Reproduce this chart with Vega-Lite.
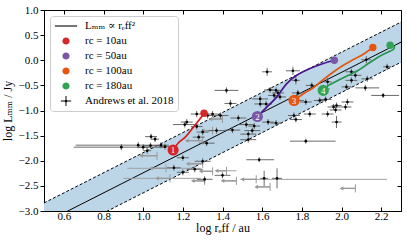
{
  "$schema": "https://vega.github.io/schema/vega-lite/v6.json",
  "width": 357,
  "height": 201,
  "autosize": {"type": "none"},
  "padding": {"left": 44, "top": 10, "right": 6, "bottom": 33},
  "config": {
    "font": "Liberation Serif, DejaVu Serif, serif",
    "view": {"stroke": "black", "strokeWidth": 1},
    "axis": {
      "grid": false,
      "labelFont": "Liberation Serif, DejaVu Serif, serif",
      "labelFontSize": 11,
      "labelColor": "black",
      "tickColor": "black",
      "domainColor": "black",
      "titleFont": "Liberation Serif, DejaVu Serif, serif",
      "titleFontSize": 12,
      "titleFontWeight": "normal",
      "titleColor": "black"
    }
  },
  "datasets": {
    "band": [
      {"x": 0.5, "lo": -3.64, "mid": -3.24, "hi": -2.84},
      {"x": 2.3, "lo": -0.04, "mid": 0.36, "hi": 0.76}
    ],
    "det": [
      {"x": 0.89, "y": -1.73, "xl": 0.65, "xr": 1.12, "yl": -1.79, "yh": -1.67},
      {"x": 0.975, "y": -1.69, "xl": 0.66, "xr": 1.05, "yl": -1.75, "yh": -1.63},
      {"x": 1.0, "y": -1.73, "xl": 0.97, "xr": 1.03, "yl": -1.79, "yh": -1.67},
      {"x": 1.04, "y": -1.52, "xl": 1.01, "xr": 1.07, "yl": -1.58, "yh": -1.46},
      {"x": 1.06, "y": -1.57, "xl": 1.04, "xr": 1.08, "yl": -1.63, "yh": -1.51},
      {"x": 1.037, "y": -1.7, "xl": 1.0, "xr": 1.08, "yl": -1.76, "yh": -1.64},
      {"x": 1.09, "y": -1.69, "xl": 1.05, "xr": 1.13, "yl": -1.75, "yh": -1.63},
      {"x": 1.11, "y": -1.72, "xl": 1.08, "xr": 1.16, "yl": -1.78, "yh": -1.66},
      {"x": 1.02, "y": -1.8, "xl": 1.0, "xr": 1.04, "yl": -1.86, "yh": -1.74},
      {"x": 1.2, "y": -1.94, "xl": 1.17, "xr": 1.23, "yl": -2.0, "yh": -1.88},
      {"x": 1.155, "y": -2.14, "xl": 1.12, "xr": 1.19, "yl": -2.2, "yh": -2.08},
      {"x": 1.2, "y": -2.23, "xl": 1.17, "xr": 1.23, "yl": -2.29, "yh": -2.17},
      {"x": 1.28, "y": -1.53, "xl": 1.25, "xr": 1.31, "yl": -1.59, "yh": -1.47},
      {"x": 1.26, "y": -2.17, "xl": 1.22, "xr": 1.3, "yl": -2.23, "yh": -2.11},
      {"x": 1.21, "y": -1.28, "xl": 1.15, "xr": 1.27, "yl": -1.34, "yh": -1.22},
      {"x": 1.975, "y": -1.23, "xl": 1.95, "xr": 2.0, "yl": -1.35, "yh": -1.11},
      {"x": 1.82, "y": -1.61, "xl": 1.74, "xr": 1.97, "yl": -1.66, "yh": -1.56},
      {"x": 1.585, "y": -1.98, "xl": 1.52, "xr": 1.66, "yl": -2.03, "yh": -1.93},
      {"x": 1.61, "y": -2.35, "xl": 1.59, "xr": 1.63, "yl": -2.5, "yh": -2.2},
      {"x": 1.675, "y": -2.35, "xl": 1.65, "xr": 1.7, "yl": -2.55, "yh": -2.15},
      {"x": 1.53, "y": -1.58, "xl": 1.49, "xr": 1.57, "yl": -1.64, "yh": -1.52},
      {"x": 1.4, "y": -2.29, "xl": 1.36, "xr": 1.44, "yl": -2.35, "yh": -2.23},
      {"x": 1.31, "y": -2.37, "xl": 1.27, "xr": 1.35, "yl": -2.43, "yh": -2.31},
      {"x": 1.3, "y": -2.01, "xl": 1.26, "xr": 1.34, "yl": -2.07, "yh": -1.95},
      {"x": 1.32, "y": -1.65, "xl": 1.28, "xr": 1.36, "yl": -1.71, "yh": -1.59},
      {"x": 1.37, "y": -1.4, "xl": 1.33, "xr": 1.41, "yl": -1.46, "yh": -1.34},
      {"x": 1.45, "y": -1.39, "xl": 1.41, "xr": 1.49, "yl": -1.45, "yh": -1.33},
      {"x": 1.52, "y": -1.28, "xl": 1.48, "xr": 1.56, "yl": -1.34, "yh": -1.22},
      {"x": 1.55, "y": -1.4, "xl": 1.51, "xr": 1.59, "yl": -1.46, "yh": -1.34},
      {"x": 1.56, "y": -1.31, "xl": 1.53, "xr": 1.59, "yl": -1.37, "yh": -1.25},
      {"x": 1.63, "y": -1.23, "xl": 1.6, "xr": 1.66, "yl": -1.29, "yh": -1.17},
      {"x": 1.67, "y": -1.25, "xl": 1.64, "xr": 1.7, "yl": -1.31, "yh": -1.19},
      {"x": 1.625, "y": -0.23, "xl": 1.6, "xr": 1.65, "yl": -0.31, "yh": -0.15},
      {"x": 1.755, "y": -0.21, "xl": 1.72, "xr": 1.79, "yl": -0.29, "yh": -0.13},
      {"x": 1.42, "y": -0.6, "xl": 1.36, "xr": 1.48, "yl": -0.66, "yh": -0.54},
      {"x": 1.44, "y": -0.86, "xl": 1.41, "xr": 1.47, "yl": -0.93, "yh": -0.79},
      {"x": 1.59, "y": -0.77, "xl": 1.55, "xr": 1.63, "yl": -0.83, "yh": -0.71},
      {"x": 1.64, "y": -0.59, "xl": 1.61, "xr": 1.67, "yl": -0.65, "yh": -0.53},
      {"x": 1.67, "y": -0.6, "xl": 1.64, "xr": 1.7, "yl": -0.66, "yh": -0.54},
      {"x": 1.68, "y": -0.65, "xl": 1.65, "xr": 1.71, "yl": -0.71, "yh": -0.59},
      {"x": 1.66, "y": -0.7, "xl": 1.63, "xr": 1.69, "yl": -0.76, "yh": -0.64},
      {"x": 1.69, "y": -0.73, "xl": 1.66, "xr": 1.72, "yl": -0.79, "yh": -0.67},
      {"x": 1.77, "y": -0.4, "xl": 1.75, "xr": 1.79, "yl": -0.48, "yh": -0.32},
      {"x": 1.78, "y": -0.65, "xl": 1.75, "xr": 1.81, "yl": -0.71, "yh": -0.59},
      {"x": 1.78, "y": -0.8, "xl": 1.75, "xr": 1.81, "yl": -0.86, "yh": -0.74},
      {"x": 1.82, "y": -0.83, "xl": 1.79, "xr": 1.85, "yl": -0.89, "yh": -0.77},
      {"x": 1.85, "y": -0.5, "xl": 1.82, "xr": 1.88, "yl": -0.56, "yh": -0.44},
      {"x": 1.89, "y": -0.8, "xl": 1.86, "xr": 1.92, "yl": -0.86, "yh": -0.74},
      {"x": 1.91, "y": -0.57, "xl": 1.88, "xr": 1.94, "yl": -0.63, "yh": -0.51},
      {"x": 1.93, "y": -0.43, "xl": 1.91, "xr": 1.95, "yl": -0.51, "yh": -0.35},
      {"x": 1.96, "y": -0.93, "xl": 1.93, "xr": 1.99, "yl": -0.99, "yh": -0.87},
      {"x": 2.025, "y": -0.53, "xl": 2.0, "xr": 2.05, "yl": -0.59, "yh": -0.47},
      {"x": 2.05, "y": -0.23, "xl": 2.02, "xr": 2.08, "yl": -0.29, "yh": -0.17},
      {"x": 2.07, "y": -0.3, "xl": 2.04, "xr": 2.1, "yl": -0.36, "yh": -0.24},
      {"x": 2.05, "y": -0.4, "xl": 2.02, "xr": 2.08, "yl": -0.46, "yh": -0.34},
      {"x": 2.125, "y": 0.01, "xl": 2.1, "xr": 2.15, "yl": -0.06, "yh": 0.08},
      {"x": 2.13, "y": -0.37, "xl": 2.1, "xr": 2.16, "yl": -0.43, "yh": -0.31},
      {"x": 2.12, "y": -0.55, "xl": 2.07, "xr": 2.19, "yl": -0.61, "yh": -0.49},
      {"x": 2.23, "y": -0.13, "xl": 2.21, "xr": 2.25, "yl": -0.19, "yh": -0.07},
      {"x": 2.21, "y": -0.7, "xl": 2.15, "xr": 2.29, "yl": -0.75, "yh": -0.65},
      {"x": 2.02, "y": -0.93, "xl": 1.99, "xr": 2.05, "yl": -0.99, "yh": -0.87},
      {"x": 1.97, "y": -0.99, "xl": 1.94, "xr": 2.0, "yl": -1.05, "yh": -0.93},
      {"x": 1.93, "y": -1.07, "xl": 1.9, "xr": 1.96, "yl": -1.13, "yh": -1.01},
      {"x": 1.76, "y": -1.1, "xl": 1.73, "xr": 1.79, "yl": -1.16, "yh": -1.04},
      {"x": 1.84, "y": -1.07, "xl": 1.81, "xr": 1.87, "yl": -1.13, "yh": -1.01},
      {"x": 1.48, "y": -1.15, "xl": 1.44, "xr": 1.52, "yl": -1.21, "yh": -1.09},
      {"x": 1.39, "y": -1.1, "xl": 1.35, "xr": 1.43, "yl": -1.16, "yh": -1.04},
      {"x": 1.35, "y": -1.07, "xl": 1.32, "xr": 1.38, "yl": -1.13, "yh": -1.01},
      {"x": 1.325, "y": -1.1, "xl": 1.3, "xr": 1.35, "yl": -1.16, "yh": -1.04},
      {"x": 1.27, "y": -1.07, "xl": 1.24, "xr": 1.3, "yl": -1.13, "yh": -1.01},
      {"x": 1.22, "y": -1.23, "xl": 1.19, "xr": 1.25, "yl": -1.29, "yh": -1.17},
      {"x": 1.27, "y": -1.32, "xl": 1.24, "xr": 1.3, "yl": -1.38, "yh": -1.26},
      {"x": 1.3, "y": -1.43, "xl": 1.27, "xr": 1.33, "yl": -1.49, "yh": -1.37},
      {"x": 1.53, "y": -1.47, "xl": 1.49, "xr": 1.57, "yl": -1.53, "yh": -1.41},
      {"x": 1.59, "y": -0.87, "xl": 1.56, "xr": 1.62, "yl": -0.93, "yh": -0.81},
      {"x": 1.62, "y": -0.87, "xl": 1.59, "xr": 1.65, "yl": -0.93, "yh": -0.81},
      {"x": 1.92, "y": -0.78, "xl": 1.89, "xr": 1.95, "yl": -0.84, "yh": -0.72},
      {"x": 2.03, "y": -0.83, "xl": 2.0, "xr": 2.06, "yl": -0.89, "yh": -0.77},
      {"x": 1.975, "y": -0.9, "xl": 1.95, "xr": 2.0, "yl": -0.96, "yh": -0.84},
      {"x": 1.77, "y": -1.18, "xl": 1.74, "xr": 1.8, "yl": -1.24, "yh": -1.12}
    ],
    "lim": [
      {"y": -1.9, "tip": 0.99, "x": 1.07, "l": 0.99, "r": 1.07, "yl": -1.98, "yh": -1.82},
      {"y": -2.15, "tip": 1.04, "x": 1.115, "l": 0.92, "r": 1.29, "yl": -2.23, "yh": -2.07},
      {"y": -2.35, "tip": 1.07, "x": 1.135, "l": 0.9, "r": 1.29, "yl": -2.43, "yh": -2.27},
      {"y": -2.06, "tip": 1.225, "x": 1.3, "l": 1.225, "r": 1.3, "yl": -2.14, "yh": -1.98},
      {"y": -2.4, "tip": 1.25, "x": 1.31, "l": 1.25, "r": 1.31, "yl": -2.48, "yh": -2.32},
      {"y": -2.21, "tip": 1.29, "x": 1.35, "l": 1.29, "r": 1.35, "yl": -2.29, "yh": -2.13},
      {"y": -2.2, "tip": 1.37, "x": 1.42, "l": 1.37, "r": 1.47, "yl": -2.28, "yh": -2.12},
      {"y": -2.4, "tip": 1.4, "x": 1.47, "l": 1.4, "r": 1.47, "yl": -2.48, "yh": -2.32},
      {"y": -2.37, "tip": 1.5, "x": 1.57, "l": 1.49, "r": 2.23, "yl": -2.45, "yh": -2.29},
      {"y": -2.52, "tip": 1.57, "x": 1.64, "l": 1.57, "r": 1.64, "yl": -2.6, "yh": -2.44},
      {"y": -2.55, "tip": 2.0, "x": 2.07, "l": 2.0, "r": 2.07, "yl": -2.63, "yh": -2.47},
      {"y": -1.4, "tip": 1.3, "x": 1.35, "l": 1.3, "r": 1.35, "yl": -1.48, "yh": -1.32},
      {"y": -1.17, "tip": 1.34, "x": 1.4, "l": 1.34, "r": 1.4, "yl": -1.25, "yh": -1.09},
      {"y": -1.6, "tip": 1.22, "x": 1.3, "l": 1.22, "r": 1.3, "yl": -1.68, "yh": -1.52}
    ],
    "tracks": [
      {"t": "1", "o": 0, "x": 1.151, "y": -1.786, "p": "start"},
      {"t": "1", "o": 1, "x": 1.177, "y": -1.646, "p": ""},
      {"t": "1", "o": 2, "x": 1.211, "y": -1.534, "p": ""},
      {"t": "1", "o": 3, "x": 1.253, "y": -1.334, "p": ""},
      {"t": "1", "o": 4, "x": 1.287, "y": -1.166, "p": ""},
      {"t": "1", "o": 5, "x": 1.307, "y": -1.054, "p": "end"},
      {"t": "2", "o": 0, "x": 1.576, "y": -1.12, "p": "start"},
      {"t": "2", "o": 1, "x": 1.623, "y": -0.934, "p": ""},
      {"t": "2", "o": 2, "x": 1.673, "y": -0.734, "p": ""},
      {"t": "2", "o": 3, "x": 1.724, "y": -0.466, "p": ""},
      {"t": "2", "o": 4, "x": 1.774, "y": -0.3, "p": ""},
      {"t": "2", "o": 5, "x": 1.841, "y": -0.166, "p": ""},
      {"t": "2", "o": 6, "x": 1.908, "y": -0.066, "p": ""},
      {"t": "2", "o": 7, "x": 1.964, "y": 0.0, "p": "end"},
      {"t": "3", "o": 0, "x": 1.761, "y": -0.8, "p": "start"},
      {"t": "3", "o": 1, "x": 1.808, "y": -0.666, "p": ""},
      {"t": "3", "o": 2, "x": 1.858, "y": -0.546, "p": ""},
      {"t": "3", "o": 3, "x": 1.908, "y": -0.386, "p": ""},
      {"t": "3", "o": 4, "x": 1.959, "y": -0.234, "p": ""},
      {"t": "3", "o": 5, "x": 2.009, "y": -0.1, "p": ""},
      {"t": "3", "o": 6, "x": 2.06, "y": 0.014, "p": ""},
      {"t": "3", "o": 7, "x": 2.11, "y": 0.12, "p": ""},
      {"t": "3", "o": 8, "x": 2.158, "y": 0.254, "p": "end"},
      {"t": "4", "o": 0, "x": 1.908, "y": -0.6, "p": "start"},
      {"t": "4", "o": 1, "x": 1.934, "y": -0.5, "p": ""},
      {"t": "4", "o": 2, "x": 1.984, "y": -0.4, "p": ""},
      {"t": "4", "o": 3, "x": 2.035, "y": -0.3, "p": ""},
      {"t": "4", "o": 4, "x": 2.085, "y": -0.2, "p": ""},
      {"t": "4", "o": 5, "x": 2.135, "y": -0.066, "p": ""},
      {"t": "4", "o": 6, "x": 2.186, "y": 0.066, "p": ""},
      {"t": "4", "o": 7, "x": 2.236, "y": 0.166, "p": ""},
      {"t": "4", "o": 8, "x": 2.261, "y": 0.214, "p": ""},
      {"t": "4", "o": 9, "x": 2.267, "y": 0.266, "p": ""},
      {"t": "4", "o": 10, "x": 2.245, "y": 0.3, "p": "end"}
    ],
    "legend": [
      {"s": "Lₘₘ ∝ rₑff²"},
      {"s": "rc = 10au"},
      {"s": "rc = 50au"},
      {"s": "rc = 100au"},
      {"s": "rc = 180au"},
      {"s": "Andrews et al. 2018"}
    ]
  },
  "layer": [
    {
      "data": {"name": "band"},
      "mark": {"type": "area", "color": "#bcd6e8", "clip": true, "opacity": 1},
      "encoding": {
        "x": {"field": "x", "type": "quantitative",
          "scale": {"domain": [0.5, 2.3], "nice": false, "zero": false},
          "axis": {"orient": "bottom", "values": [0.6, 0.8, 1.0, 1.2, 1.4, 1.6, 1.8, 2.0, 2.2], "format": ".1f",
            "title": "log rₑff / au", "tickSize": -4, "labelPadding": 3, "titlePadding": 1}},
        "y": {"field": "lo", "type": "quantitative",
          "scale": {"domain": [-3, 1], "nice": false, "zero": false},
          "axis": {"orient": "left", "values": [-3, -2.5, -2, -1.5, -1, -0.5, 0, 0.5, 1], "format": ".1f",
            "title": "log Lₘₘ / Jy", "tickSize": 4, "labelPadding": 2, "titlePadding": 4}},
        "y2": {"field": "hi"}
      }
    },
    {
      "data": {"name": "band"},
      "mark": {"type": "line", "color": "black", "strokeWidth": 1, "strokeDash": [3, 2], "clip": true},
      "encoding": {
        "x": {"field": "x", "type": "quantitative",
          "axis": {"orient": "top", "values": [0.6, 0.8, 1.0, 1.2, 1.4, 1.6, 1.8, 2.0, 2.2], "labels": false, "title": null, "tickSize": -4, "domain": false}},
        "y": {"field": "hi", "type": "quantitative",
          "axis": {"orient": "right", "values": [-3, -2.5, -2, -1.5, -1, -0.5, 0, 0.5, 1], "labels": false, "title": null, "tickSize": -4, "domain": false}}
      }
    },
    {
      "data": {"name": "band"},
      "mark": {"type": "line", "color": "black", "strokeWidth": 1, "strokeDash": [3, 2], "clip": true},
      "encoding": {
        "x": {"field": "x", "type": "quantitative", "axis": null},
        "y": {"field": "lo", "type": "quantitative", "axis": null}
      }
    },
    {
      "data": {"name": "band"},
      "mark": {"type": "line", "color": "black", "strokeWidth": 1, "clip": true},
      "encoding": {
        "x": {"field": "x", "type": "quantitative", "axis": null},
        "y": {"field": "mid", "type": "quantitative", "axis": null}
      }
    },
    {
      "data": {"name": "lim"},
      "mark": {"type": "rule", "color": "#a0a0a0", "strokeWidth": 1, "clip": true},
      "encoding": {
        "x": {"field": "l", "type": "quantitative", "axis": null},
        "x2": {"field": "r"},
        "y": {"field": "y", "type": "quantitative", "axis": null}
      }
    },
    {
      "data": {"name": "lim"},
      "mark": {"type": "rule", "color": "#999999", "strokeWidth": 1.3, "clip": true},
      "encoding": {
        "x": {"field": "tip", "type": "quantitative", "axis": null},
        "x2": {"field": "x"},
        "y": {"field": "y", "type": "quantitative", "axis": null}
      }
    },
    {
      "data": {"name": "lim"},
      "mark": {"type": "rule", "color": "#999999", "strokeWidth": 1, "clip": true},
      "encoding": {
        "x": {"field": "x", "type": "quantitative", "axis": null},
        "y": {"field": "yl", "type": "quantitative", "axis": null},
        "y2": {"field": "yh"}
      }
    },
    {
      "data": {"name": "lim"},
      "mark": {"type": "point", "shape": "triangle-left", "filled": true, "color": "#999999", "size": 18, "opacity": 1, "clip": true},
      "encoding": {
        "x": {"field": "tip", "type": "quantitative", "axis": null},
        "y": {"field": "y", "type": "quantitative", "axis": null}
      }
    },
    {
      "data": {"name": "det"},
      "mark": {"type": "rule", "color": "#5a5a5a", "strokeWidth": 0.9, "clip": true},
      "encoding": {
        "x": {"field": "xl", "type": "quantitative", "axis": null},
        "x2": {"field": "xr"},
        "y": {"field": "y", "type": "quantitative", "axis": null}
      }
    },
    {
      "data": {"name": "det"},
      "mark": {"type": "rule", "color": "#5a5a5a", "strokeWidth": 0.9, "clip": true},
      "encoding": {
        "x": {"field": "x", "type": "quantitative", "axis": null},
        "y": {"field": "yl", "type": "quantitative", "axis": null},
        "y2": {"field": "yh"}
      }
    },
    {
      "data": {"name": "det"},
      "mark": {"type": "point", "shape": "circle", "filled": true, "color": "black", "size": 7, "opacity": 1, "clip": true},
      "encoding": {
        "x": {"field": "x", "type": "quantitative", "axis": null},
        "y": {"field": "y", "type": "quantitative", "axis": null}
      }
    },
    {
      "data": {"name": "tracks"},
      "mark": {"type": "line", "strokeWidth": 1.7, "interpolate": "catmull-rom", "clip": true},
      "encoding": {
        "x": {"field": "x", "type": "quantitative", "axis": null},
        "y": {"field": "y", "type": "quantitative", "axis": null},
        "order": {"field": "o"},
        "stroke": {"field": "t", "type": "nominal", "legend": null,
          "scale": {"domain": ["1", "2", "3", "4"], "range": ["#d41c1c", "#4b148f", "#e2570e", "#27924b"]}}
      }
    },
    {
      "data": {"name": "tracks"},
      "transform": [{"filter": "datum.p == 'end'"}],
      "mark": {"type": "point", "shape": "circle", "filled": true, "size": 55, "opacity": 1},
      "encoding": {
        "x": {"field": "x", "type": "quantitative", "axis": null},
        "y": {"field": "y", "type": "quantitative", "axis": null},
        "fill": {"field": "t", "type": "nominal", "legend": null,
          "scale": {"domain": ["1", "2", "3", "4"], "range": ["#d62728", "#7b58a6", "#e6550d", "#31a354"]}}
      }
    },
    {
      "data": {"name": "tracks"},
      "transform": [{"filter": "datum.p == 'start'"}],
      "mark": {"type": "point", "shape": "circle", "filled": true, "size": 125, "opacity": 1},
      "encoding": {
        "x": {"field": "x", "type": "quantitative", "axis": null},
        "y": {"field": "y", "type": "quantitative", "axis": null},
        "fill": {"field": "t", "type": "nominal", "legend": null}
      }
    },
    {
      "data": {"name": "tracks"},
      "transform": [{"filter": "datum.p == 'start'"}],
      "mark": {"type": "text", "color": "white", "fontSize": 9, "font": "Liberation Serif, DejaVu Serif, serif", "align": "center", "baseline": "middle", "dy": 0.5},
      "encoding": {
        "x": {"field": "x", "type": "quantitative", "axis": null},
        "y": {"field": "y", "type": "quantitative", "axis": null},
        "text": {"field": "t", "type": "nominal"}
      }
    },
    {
      "data": {"name": "legend"},
      "transform": [{"filter": "false"}],
      "mark": {"type": "point", "filled": true, "opacity": 1},
      "encoding": {
        "color": {"field": "s", "type": "nominal",
          "scale": {"domain": ["Lₘₘ ∝ rₑff²", "rc = 10au", "rc = 50au", "rc = 100au", "rc = 180au", "Andrews et al. 2018"],
            "range": ["black", "#d62728", "#7b58a6", "#e6550d", "#31a354", "black"]},
          "legend": {"orient": "top-left", "offset": 6, "title": null, "padding": 4,
            "symbolSize": 144, "symbolOffset": 6, "labelOffset": 13, "rowPadding": 4,
            "labelFont": "Liberation Serif, DejaVu Serif, serif", "labelFontSize": 11, "labelColor": "black",
            "cornerRadius": 3, "strokeColor": "#cccccc", "fillColor": "rgba(255,255,255,0.8)",
            "symbolStrokeWidth": 0, "labelLimit": 200}},
        "shape": {"field": "s", "type": "nominal",
          "scale": {"domain": ["Lₘₘ ∝ rₑff²", "rc = 10au", "rc = 50au", "rc = 100au", "rc = 180au", "Andrews et al. 2018"],
            "range": [
              "M-1.85,-0.09H1.85V0.09H-1.85Z",
              "M0.6,0A0.6,0.6,0,1,1,-0.6,0A0.6,0.6,0,1,1,0.6,0Z",
              "M0.6,0A0.6,0.6,0,1,1,-0.6,0A0.6,0.6,0,1,1,0.6,0Z",
              "M0.6,0A0.6,0.6,0,1,1,-0.6,0A0.6,0.6,0,1,1,0.6,0Z",
              "M0.6,0A0.6,0.6,0,1,1,-0.6,0A0.6,0.6,0,1,1,0.6,0Z",
              "M-0.85,-0.08H0.85V0.08H-0.85Z M-0.08,-0.85H0.08V0.85H-0.08Z M0.22,0A0.22,0.22,0,1,1,-0.22,0A0.22,0.22,0,1,1,0.22,0Z"
            ]}}
      }
    }
  ]
}
